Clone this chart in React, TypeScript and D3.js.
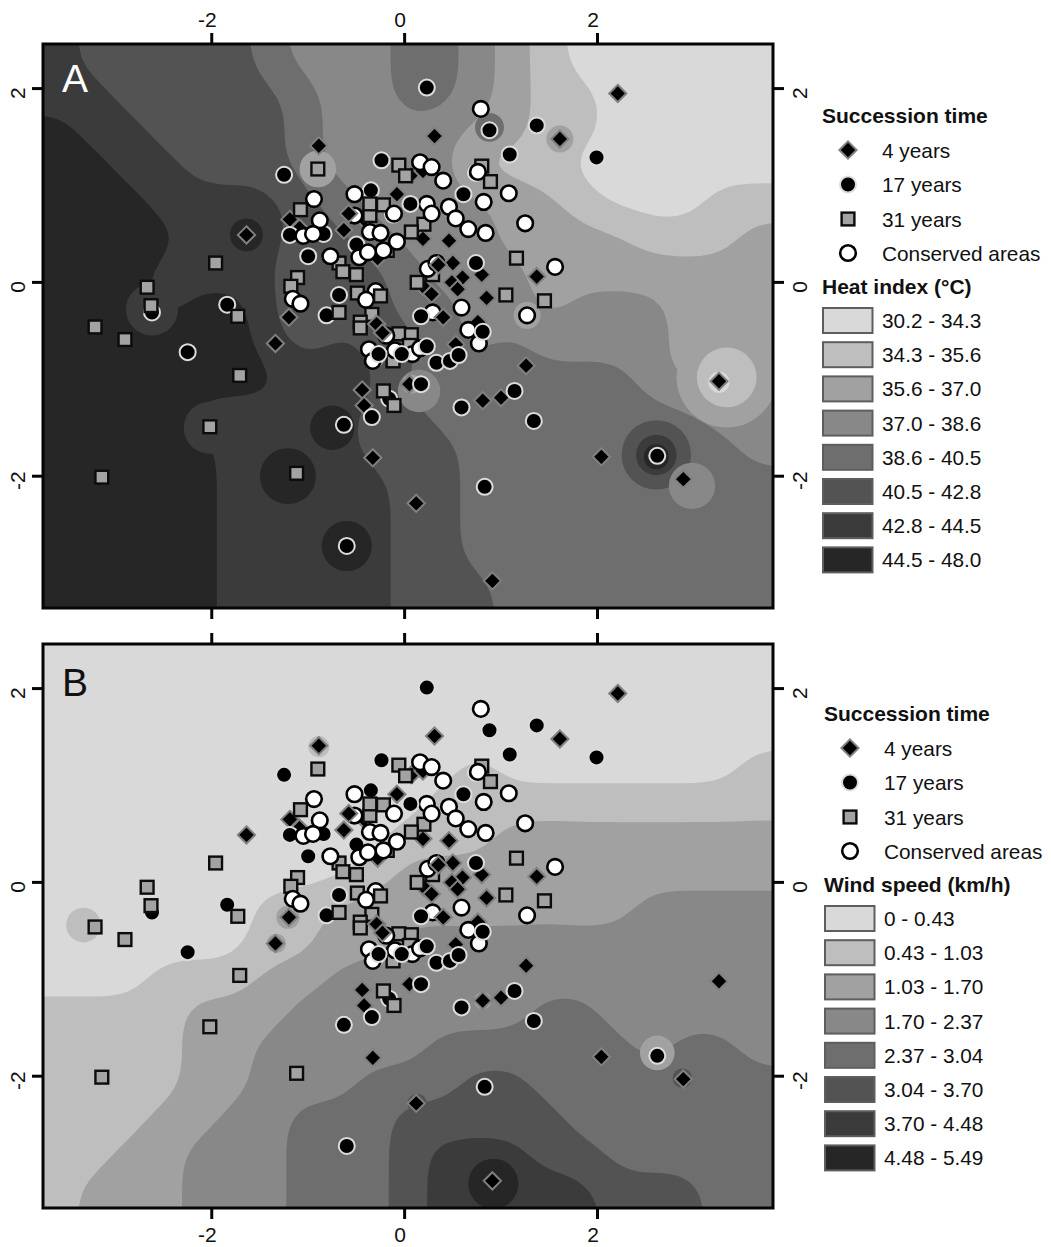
import React from "react";
import * as d3 from "d3";

const WIDTH = 1051;
const HEIGHT = 1247;
const FONT = "'Liberation Sans', Arial, sans-serif";

// [x, y] ordination coordinates
const diamonds: [number, number][] = [
  [-0.89,1.41],[0.31,1.51],[1.61,1.48],[2.21,1.95],[-1.64,0.49],[-1.19,0.65],[-1.09,0.56],[-0.42,0.65],[-0.63,0.54],
  [-0.08,0.91],[0.07,1.11],[0.19,1.15],[0.19,0.45],[0.46,0.43],[-0.28,0.25],[0.50,0.20],[0.60,0.05],[0.80,0.08],
  [0.49,0.00],[0.55,-0.07],[0.20,-0.05],[0.28,-0.12],[0.85,-0.16],[1.37,0.06],[-1.20,-0.36],[-1.34,-0.63],[0.76,-0.41],
  [0.53,-0.64],[1.26,-0.86],[-0.44,-1.11],[-0.42,-1.27],[0.05,-1.05],[0.81,-1.22],[1.00,-1.19],[-0.33,-1.81],[0.12,-2.28],
  [2.04,-1.80],[2.89,-2.03],[3.26,-1.02],[0.91,-3.08],
];
const diamondsOnTop: [number, number][] = [[-0.58,0.71],[0.35,0.18],[-0.29,-0.43],[-0.23,-0.52],[0.40,-0.36]];

const years17: [number, number][] = [
  [0.23,2.01],[0.88,1.57],[1.37,1.62],[1.09,1.32],[1.99,1.29],[-1.25,1.11],[-0.24,1.26],[-0.35,0.95],[0.61,0.91],
  [0.74,1.13],[-0.50,0.39],[-1.00,0.27],[-1.19,0.49],[-0.84,0.50],[-0.12,0.70],[0.74,0.20],[-0.68,-0.13],[-0.81,-0.34],
  [-0.31,-0.79],[-0.16,-1.20],[1.14,-1.12],[0.59,-1.29],[1.34,-1.43],[-0.34,-1.39],[-0.63,-1.47],[0.83,-2.11],
  [-1.84,-0.23],[-2.62,-0.31],[-2.25,-0.72],[2.62,-1.79],[-0.60,-2.72],
];
const years17OnTop: [number, number][] = [
  [0.06,0.81],[0.17,-0.35],[0.81,-0.51],[-0.27,-0.74],[-0.03,-0.74],[0.23,-0.66],[0.33,-0.83],[0.47,-0.81],[0.56,-0.75],[0.17,-1.05],
];

const years31: [number, number][] = [
  [-0.06,1.21],[0.01,1.10],[-0.90,1.17],[0.80,1.20],[0.89,1.04],[-1.08,0.75],[-0.36,0.69],[-0.36,0.81],[-0.22,0.80],
  [0.20,0.60],[0.07,0.52],[-0.18,0.33],[1.16,0.25],[-0.68,0.20],[-0.64,0.11],[-0.50,0.08],[-1.11,0.05],[-1.18,-0.04],
  [0.29,0.08],[0.13,0.00],[1.05,-0.13],[1.45,-0.19],[-0.49,-0.11],[-0.68,-0.31],[-0.34,-0.33],[-0.46,-0.41],[-0.46,-0.47],
  [-0.06,-0.53],[0.07,-0.54],[0.05,-0.65],[-0.12,-0.81],[-0.22,-1.12],[-0.11,-1.27],[-1.12,-1.97],[-1.71,-0.96],
  [-1.73,-0.35],[-1.96,0.20],[-2.67,-0.05],[-2.63,-0.24],[-3.21,-0.46],[-2.90,-0.59],[-2.02,-1.49],[-3.14,-2.01],
];
const years31OnTop: [number, number][] = [[-0.25,-0.14]];

const conserved: [number, number][] = [
  [0.79,1.79],[0.16,1.24],[0.28,1.19],[0.40,1.05],[0.76,1.14],[1.08,0.92],[0.82,0.83],[0.46,0.78],[0.53,0.66],[0.66,0.55],
  [0.84,0.51],[1.25,0.61],[1.56,0.16],[-0.52,0.91],[-0.94,0.86],[-0.88,0.64],[0.23,0.81],[0.28,0.71],[-0.11,0.71],[-0.52,0.69],
  [-0.36,0.52],[-0.25,0.51],[-0.08,0.42],[-0.22,0.33],[-0.47,0.26],[-1.05,0.48],[-0.95,0.50],[-0.77,0.27],[-0.38,0.31],
  [0.24,0.14],[0.33,0.20],[-1.16,-0.17],[-1.08,-0.22],[-0.30,-0.09],[-0.40,-0.18],[0.29,-0.31],[0.59,-0.26],[1.27,-0.34],
  [0.66,-0.49],[0.77,-0.63],[-0.19,-0.55],[-0.37,-0.69],[0.08,-0.74],[-0.10,-0.70],[0.16,-0.68],[-0.33,-0.81],
];

// Interpolated surface, class index per coarse cell (0 = lightest band, 7 = darkest)
const heatGrid = [
  "655555433344321000000",
  "665555543344321100000",
  "766555543333221100000",
  "776655543333111000000",
  "777666654333322100011",
  "777766655433322221112",
  "777666645543332222222",
  "777677645544332333222",
  "777777656554343333222",
  "777777766644444443222",
  "777766666554444444433",
  "777776666555444444443",
  "777776666655444444444",
  "777776666655444444444",
  "777776666655444444444",
  "777776666655544444444",
];
const windGrid = [
  "000000000000000000000",
  "000000000000000000000",
  "000000000000000000000",
  "000000000000100000001",
  "000000000001111111111",
  "000000000011122222222",
  "000000000122223222222",
  "000000112222222223333",
  "000000112233333333333",
  "000111223333333333333",
  "111122233333334433333",
  "111122333334444443443",
  "111122333444554444444",
  "111223344455555444444",
  "112233344456665544444",
  "122233344456666655544",
];

// Local anomalies round single sites: x, y, radius (axis units), class
const heatSpots: [number, number, number, number][] = [
  [-1.64,0.49,0.17,7],[-2.62,-0.28,0.27,6],[-0.90,1.17,0.19,2],[0.88,1.60,0.15,4],[1.61,1.48,0.14,2],[1.27,-0.34,0.14,2],
  [3.34,-0.98,0.52,2],[3.34,-0.98,0.31,1],[3.26,-1.03,0.11,0],
  [2.61,-1.78,0.36,5],[2.61,-1.78,0.21,6],[2.61,-1.80,0.13,7],[2.98,-2.10,0.24,3],
  [-0.60,-2.72,0.26,7],[-1.21,-2.00,0.29,7],[-0.75,-1.50,0.23,7],[-2.02,-1.50,0.27,6],[0.15,-1.12,0.22,3],[0.07,-1.05,0.10,2],
];
const windSpots: [number, number, number, number][] = [
  [0.92,-3.11,0.26,7],[-3.33,-0.44,0.18,1],[-1.33,-0.63,0.10,2],[-1.21,-0.36,0.12,2],[2.62,-1.76,0.18,2],
  [2.88,-2.02,0.10,5],[0.13,-2.28,0.10,5],[0.81,-1.22,0.09,2],[-0.89,1.40,0.11,1],
];

const bandColors = ["#d9d9d9", "#bebebe", "#a1a1a1", "#888888", "#6e6e6e", "#535353", "#3b3b3b", "#262626"];
const heatLabels = ["30.2 - 34.3","34.3 - 35.6","35.6 - 37.0","37.0 - 38.6","38.6 - 40.5","40.5 - 42.8","42.8 - 44.5","44.5 - 48.0"];
const windLabels = ["0 - 0.43","0.43 - 1.03","1.03 - 1.70","1.70 - 2.37","2.37 - 3.04","3.04 - 3.70","3.70 - 4.48","4.48 - 5.49"];
const successionLabels = ["4 years","17 years","31 years","Conserved areas"];
const xTicks = [-2, 0, 2];
const yTicks = [-2, 0, 2];
const xDomain: [number, number] = [-3.75, 3.82];
const yDomain: [number, number] = [-3.36, 2.46];

const LEFT = 43;
const RIGHT = 773;
const x = d3.scaleLinear().domain(xDomain).range([LEFT, RIGHT]);

// Rounds the stepped class grid into a surface that d3.contours can trace.
function smoothField(grid: string[], pad: number, factor: number, radius: number) {
  const nCols = grid[0].length;
  const nRows = grid.length;
  const width = (nCols + 2 * pad) * factor;
  const height = (nRows + 2 * pad) * factor;
  const data = new Float64Array(width * height);
  for (let j = 0; j < height; j++) {
    const row = Math.min(nRows - 1, Math.max(0, Math.floor(j / factor) - pad));
    for (let i = 0; i < width; i++) {
      const col = Math.min(nCols - 1, Math.max(0, Math.floor(i / factor) - pad));
      data[j * width + i] = +grid[row][col];
    }
  }
  (d3 as any).blur2({ data, width, height }, radius);
  return { data, width, height };
}

type MarkerProps = { cx: number; cy: number };
const Diamond = ({ cx, cy }: MarkerProps) => (
  <path d={`M${cx},${cy - 8.6}L${cx + 8.6},${cy}L${cx},${cy + 8.6}L${cx - 8.6},${cy}Z`} fill="#000" stroke="#808080" strokeWidth={2} strokeLinejoin="miter" />
);
const Dot17 = ({ cx, cy }: MarkerProps) => <circle cx={cx} cy={cy} r={8} fill="#000" stroke="#dcdcdc" strokeWidth={2} />;
const Square31 = ({ cx, cy }: MarkerProps) => (
  <rect x={cx - 6.4} y={cy - 6.4} width={12.8} height={12.8} fill="#a3a3a3" stroke="#0c0c0c" strokeWidth={2.4} />
);
const WhiteDot = ({ cx, cy }: MarkerProps) => <circle cx={cx} cy={cy} r={7.8} fill="#fff" stroke="#000" strokeWidth={2.6} />;

function Panel(props: {
  id: string; top: number; bottom: number; grid: string[]; spots: [number, number, number, number][];
  letter: string; letterColor: string; letterY: number; topLabels: boolean; bottomLabels: boolean;
}) {
  const { id, top, bottom, grid, spots, letter, letterColor, letterY, topLabels, bottomLabels } = props;
  const y = d3.scaleLinear().domain(yDomain).range([bottom, top]);
  const nCols = grid[0].length;
  const nRows = grid.length;
  const pad = 2;
  const factor = 6;
  const field = smoothField(grid, pad, factor, 3);
  const gx = d3.scaleLinear().domain([pad * factor, (nCols + pad) * factor]).range([LEFT, RIGHT]);
  const gy = d3.scaleLinear().domain([pad * factor, (nRows + pad) * factor]).range([top, bottom]);
  const thresholds = d3.range(1, 8).map((k) => k - 0.5);
  const bands = d3.contours().size([field.width, field.height]).thresholds(thresholds)(field.data as any);
  const path = d3.geoPath(
    d3.geoTransform({
      point(px: number, py: number) {
        (this as any).stream.point(gx(px), gy(py));
      },
    })
  );
  const rScale = x(1) - x(0);
  const dot = (C: (p: MarkerProps) => React.ReactElement, pts: [number, number][], key: string) =>
    pts.map((p, i) => <C key={`${key}${i}`} cx={x(p[0])} cy={y(p[1])} />);

  return (
    <g>
      <defs>
        <clipPath id={id}>
          <rect x={LEFT} y={top} width={RIGHT - LEFT} height={bottom - top} />
        </clipPath>
      </defs>
      <g clipPath={`url(#${id})`}>
        <rect x={LEFT} y={top} width={RIGHT - LEFT} height={bottom - top} fill={bandColors[0]} />
        {bands.map((b, i) => (
          <path key={i} d={path(b as any) || ""} fill={bandColors[i + 1]} />
        ))}
        {spots.map((s, i) => (
          <circle key={i} cx={x(s[0])} cy={y(s[1])} r={s[2] * rScale} fill={bandColors[s[3]]} />
        ))}
      </g>
      {dot(Diamond, diamonds, "d")}
      {dot(Dot17, years17, "b")}
      {dot(Square31, years31, "s")}
      {dot(WhiteDot, conserved, "w")}
      {dot(Square31, years31OnTop, "st")}
      {dot(Dot17, years17OnTop, "bt")}
      {dot(Diamond, diamondsOnTop, "dt")}
      <rect x={LEFT} y={top} width={RIGHT - LEFT} height={bottom - top} fill="none" stroke="#050505" strokeWidth={3} />
      <text x={62} y={letterY} fontSize={39} fill={letterColor} fontFamily={FONT}>{letter}</text>
      {xTicks.map((t) => (
        <g key={t}>
          <line x1={x(t)} x2={x(t)} y1={top} y2={top - 11} stroke="#050505" strokeWidth={3} />
          <line x1={x(t)} x2={x(t)} y1={bottom} y2={bottom + 11} stroke="#050505" strokeWidth={3} />
          {topLabels && (
            <text x={x(t) - 4.5} y={top - 17} textAnchor="middle" fontSize={21} fill="#111" fontFamily={FONT}>{t}</text>
          )}
          {bottomLabels && (
            <text x={x(t) - 4.5} y={bottom + 34} textAnchor="middle" fontSize={21} fill="#111" fontFamily={FONT}>{t}</text>
          )}
        </g>
      ))}
      {yTicks.map((t) => (
        <g key={t}>
          <line x1={LEFT} x2={LEFT - 11} y1={y(t)} y2={y(t)} stroke="#050505" strokeWidth={3} />
          <line x1={RIGHT} x2={RIGHT + 11} y1={y(t)} y2={y(t)} stroke="#050505" strokeWidth={3} />
          <text transform={`translate(25,${y(t) + 4.5}) rotate(-90)`} textAnchor="middle" fontSize={21} fill="#111" fontFamily={FONT}>{t}</text>
          <text transform={`translate(807,${y(t) + 4.5}) rotate(-90)`} textAnchor="middle" fontSize={21} fill="#111" fontFamily={FONT}>{t}</text>
        </g>
      ))}
    </g>
  );
}

function Legend(props: { dx: number; dy: number; title: string; labels: string[] }) {
  const { dx, dy, title, labels } = props;
  const markers = [Diamond, Dot17, Square31, WhiteDot];
  const markerY = [150, 184.5, 219, 253];
  return (
    <g transform={`translate(${dx},${dy})`} fontFamily={FONT} fill="#111">
      <text x={822} y={123} fontSize={21} fontWeight="bold">Succession time</text>
      {successionLabels.map((s, i) => {
        const M = markers[i];
        return (
          <g key={s}>
            <M cx={848} cy={markerY[i]} />
            <text x={882} y={markerY[i] + 7.5} fontSize={20.8}>{s}</text>
          </g>
        );
      })}
      <text x={822} y={294} fontSize={21} fontWeight="bold">{title}</text>
      {labels.map((l, i) => (
        <g key={l}>
          <rect x={823} y={308 + i * 34.2} width={49.5} height={25} fill={bandColors[i]} stroke="#5e5e5e" strokeWidth={2} />
          <text x={882} y={328 + i * 34.2} fontSize={20.8}>{l}</text>
        </g>
      ))}
    </g>
  );
}

export default function App() {
  return (
    <svg width={WIDTH} height={HEIGHT} viewBox={`0 0 ${WIDTH} ${HEIGHT}`} style={{ position: "absolute", left: 0, top: 0, background: "#fff" }}>
      <Panel id="clipA" top={44} bottom={608} grid={heatGrid} spots={heatSpots} letter="A" letterColor="#fff" letterY={92} topLabels bottomLabels={false} />
      <Panel id="clipB" top={644} bottom={1208} grid={windGrid} spots={windSpots} letter="B" letterColor="#111" letterY={696} topLabels={false} bottomLabels />
      <Legend dx={0} dy={0} title="Heat index (°C)" labels={heatLabels} />
      <Legend dx={2} dy={598} title="Wind speed (km/h)" labels={windLabels} />
    </svg>
  );
}
